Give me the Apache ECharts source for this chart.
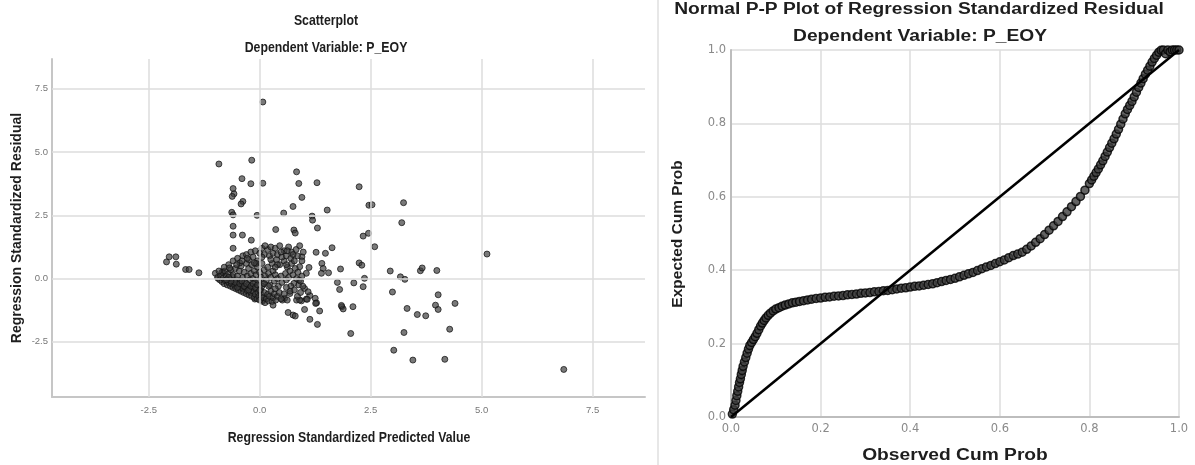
<!DOCTYPE html>
<html><head><meta charset="utf-8">
<script src="https://cdn.jsdelivr.net/npm/echarts@6/dist/echarts.min.js"></script>
<style>html,body{margin:0;padding:0;background:#fff}#c{width:1195px;height:465px}</style>
</head><body><div id="c"></div>
<script>
// ---------- data ----------
const scatterTicks = [-2.5, 0, 2.5, 5, 7.5];
const ppTicks = [0, 0.2, 0.4, 0.6, 0.8, 1.0];

// Regression Standardized Predicted Value (x) vs Regression Standardized Residual (y)
const scatterPoints = [
[0.07,6.98],[-0.92,4.53],[-0.18,4.68],[-0.4,3.95],[-0.2,3.75],[0.07,3.77],[-0.6,3.56],[-0.58,3.35],[-0.62,3.25],
[-0.38,3.05],[-0.42,2.95],[-0.63,2.62],[-0.6,2.52],[-0.06,2.5],[-0.6,2.07],[-0.6,1.72],[-0.39,1.72],[-0.19,1.52],
[-0.6,1.2],[0.83,4.22],[0.88,3.76],[1.29,3.79],[0.95,3.21],[0.75,2.85],[0.54,2.59],[1.52,2.71],[1.18,2.47],
[1.19,2.31],[1.3,2.0],[2.24,3.63],[2.46,2.9],[2.53,2.92],[0.36,1.94],[0.77,1.92],[0.8,1.8],[2.33,1.68],[2.45,1.79],
[2.59,1.26],[1.63,1.22],[1.27,1.04],[1.48,1.0],[2.24,0.62],[2.3,0.53],[1.82,0.38],[1.4,0.6],[1.43,0.4],[1.55,0.23],
[1.39,0.21],[1.11,0.44],[1.05,0.21],[2.94,0.3],[2.99,-0.53],[3.17,0.07],[3.27,-0.03],[2.12,-0.17],[2.36,0.01],
[2.33,-0.32],[1.75,-0.15],[1.8,-0.43],[1.85,-1.11],[1.88,-1.2],[2.1,-1.11],[2.05,-2.17],[1.13,-1.61],[1.3,-1.81],
[1.35,-1.28],[1.25,-0.78],[1.28,-0.96],[1.01,-1.22],[0.64,-1.34],[0.75,-1.44],[0.8,-1.48],[0.83,-0.85],[0.94,-0.88],
[1.05,-0.81],[1.13,-0.67],[0.68,-0.59],[0.77,-0.19],[0.89,-0.06],[0.56,-0.78],[0.51,-0.85],[0.3,-1.05],[0.07,-0.85],
[-0.11,-0.81],[-2.1,0.66],[-2.04,0.86],[-1.89,0.86],[-1.88,0.57],[-1.67,0.36],[-1.59,0.36],[-1.37,0.23],[-1.0,0.21],
[-0.94,0.01],[-0.83,0.27],[3.24,3.0],[3.2,2.21],[5.12,0.97],[0.95,0.86],[0.9,0.47],[3.62,0.31],[3.66,0.42],[3.99,0.32],
[4.02,-0.64],[3.32,-1.18],[3.55,-1.42],[3.74,-1.47],[3.96,-1.05],[4.02,-1.22],[4.4,-0.98],[4.28,-2.0],[3.25,-2.13],
[3.02,-2.83],[3.45,-3.22],[4.17,-3.19],[6.85,-3.59],[1.84,-1.06],[1.26,-0.98],[1.07,-0.82],[1.01,-0.39],[1.09,-0.52],
[0.9,-0.85],
[-0.95,0.05],[-0.9,-0.05],[-0.88,0.12],[-0.85,-0.12],[-0.82,0.02],[-0.8,-0.2],[-0.78,-0.08],[-0.75,0.1],[-0.73,-0.25],
[-0.7,-0.15],[-0.68,-0.02],[-0.66,-0.3],[-0.64,-0.2],[-0.62,0.08],[-0.6,-0.35],[-0.58,-0.12],[-0.56,-0.28],[-0.54,-0.4],
[-0.52,-0.05],[-0.5,-0.22],[-0.48,-0.45],[-0.46,-0.33],[-0.44,-0.1],[-0.42,-0.5],[-0.4,-0.27],[-0.38,-0.4],[-0.36,-0.55],
[-0.34,-0.15],[-0.32,-0.35],[-0.3,-0.6],[-0.28,-0.48],[-0.26,-0.25],[-0.24,-0.65],[-0.22,-0.4],[-0.2,-0.55],[-0.18,-0.7],
[-0.16,-0.3],[-0.14,-0.5],[-0.12,-0.75],[-0.1,-0.62],[-0.08,-0.4],[-0.06,-0.8],[-0.04,-0.55],[-0.02,-0.7],[0.0,-0.85],
[0.02,-0.45],[0.04,-0.65],[0.06,-0.9],[0.08,-0.75],[0.1,-0.55],[0.12,-0.95],[0.15,-0.8],[0.18,-0.62],[0.2,-0.88],
[0.22,-0.7],[0.25,-0.5],[0.28,-0.9],[0.3,-0.75],[0.33,-0.6],[0.36,-0.85],[0.4,-0.7],[0.44,-0.55],[0.48,-0.8],
[-0.85,0.25],[-0.78,0.3],[-0.7,0.2],[-0.65,0.35],[-0.6,0.15],[-0.55,0.4],[-0.5,0.1],[-0.46,0.3],[-0.42,0.5],
[-0.38,0.05],[-0.35,0.25],[-0.3,0.6],[-0.28,0.1],[-0.25,0.4],[-0.22,-0.05],[-0.2,0.2],[-0.18,0.55],[-0.15,0.0],
[-0.12,0.3],[-0.1,-0.15],[-0.08,0.15],[-0.05,0.45],[-0.02,-0.1],[0.0,0.25],[0.03,0.05],[0.05,0.6],[0.07,-0.2],
[0.1,0.35],[0.12,0.1],[0.15,-0.05],[0.18,0.45],[0.2,0.2],[0.23,-0.25],[0.25,0.05],[0.28,0.6],[0.3,0.3],[0.33,-0.1],
[0.35,0.15],[0.38,0.75],[0.4,0.0],[0.42,-0.3],[0.45,0.55],[0.48,0.1],[0.5,-0.15],[0.55,0.7],[0.58,0.2],[0.6,-0.05],
[0.62,0.45],[0.65,0.05],[0.68,0.3],[0.7,-0.3],[0.72,0.6],[0.75,0.15],[0.78,-0.45],[0.8,0.4],[0.83,0.0],[0.86,0.25],
[0.88,-0.25],
[-0.7,0.55],[-0.6,0.7],[-0.5,0.8],[-0.45,0.62],[-0.38,0.9],[-0.3,0.95],[-0.25,0.75],[-0.2,1.05],[-0.15,0.85],
[-0.1,1.1],[-0.05,0.7],[0.0,1.0],[0.05,1.2],[0.1,0.95],[0.18,1.15],[0.22,0.9],[0.25,1.25],[0.3,1.0],[0.35,1.2],
[0.4,0.95],[0.45,1.3],[0.5,0.85],[0.55,1.1],[0.6,0.9],[0.65,1.25],[0.7,0.8],[0.72,1.05],[0.78,0.7],[0.82,1.15],
[0.85,0.9],[0.9,1.3],[0.95,0.7],[0.4,0.55],[0.6,0.55],[0.35,0.45],[-0.08,0.6],[0.05,0.85],[0.25,0.75],
[-0.55,-0.15],[-0.5,-0.35],[-0.45,-0.2],[-0.4,-0.1],[-0.35,-0.3],[-0.3,-0.2],[-0.25,-0.45],[-0.2,-0.3],[-0.15,-0.2],
[-0.1,-0.35],[-0.05,-0.25],[0.0,-0.45],[0.05,-0.3],[0.1,-0.2],[-0.65,-0.1],[-0.7,0.05],[-0.75,-0.05],
[0.55,-0.6],[0.62,-0.85],[0.68,-0.5],[0.85,-0.7],[0.92,-0.55],[0.97,-0.3],
[-0.92,0.3],[-0.8,0.45],[-0.68,0.42],[-0.52,0.55],[-0.4,0.7],[-0.28,0.8],[-0.12,0.62],[0.12,1.3],[0.48,1.05],
[0.62,1.1],[0.75,0.95],[0.98,1.05],[0.95,0.1],[0.92,-0.1],[0.6,-0.35],[0.35,-0.4],[0.2,-0.3]
];

// Observed Cum Prob (x) vs Expected Cum Prob (y)
const ppPoints = [
[0.003,0.008],[0.006,0.02],[0.009,0.032],[0.011,0.045],[0.013,0.058],[0.015,0.07],[0.017,0.082],[0.019,0.094],
[0.021,0.104],[0.023,0.116],[0.025,0.127],[0.027,0.138],[0.03,0.15],[0.033,0.162],[0.036,0.174],[0.039,0.185],
[0.042,0.195],[0.046,0.203],[0.05,0.211],[0.054,0.219],[0.058,0.228],[0.062,0.238],[0.066,0.248],[0.07,0.256],
[0.074,0.263],[0.078,0.27],[0.083,0.277],[0.088,0.283],[0.094,0.289],[0.1,0.294],[0.107,0.298],[0.114,0.302],
[0.121,0.305],[0.129,0.308],[0.137,0.311],[0.145,0.313],[0.153,0.315],[0.162,0.317],[0.171,0.319],[0.18,0.321],
[0.19,0.323],[0.2,0.324],[0.21,0.326],[0.22,0.327],[0.23,0.329],[0.24,0.33],[0.25,0.331],[0.26,0.333],[0.27,0.334],
[0.28,0.335],[0.29,0.337],[0.3,0.338],[0.31,0.339],[0.32,0.341],[0.33,0.342],[0.34,0.344],[0.35,0.345],[0.36,0.347],
[0.37,0.349],[0.38,0.351],[0.39,0.352],[0.4,0.354],[0.41,0.356],[0.42,0.357],[0.43,0.359],[0.44,0.361],[0.45,0.363],
[0.46,0.366],[0.47,0.369],[0.48,0.372],[0.49,0.375],[0.5,0.378],[0.51,0.382],[0.52,0.386],[0.53,0.39],[0.54,0.394],
[0.55,0.399],[0.56,0.404],[0.57,0.409],[0.58,0.413],[0.59,0.418],[0.6,0.423],[0.61,0.428],[0.62,0.434],[0.63,0.44],
[0.64,0.444],[0.65,0.449],[0.66,0.457],[0.67,0.466],[0.68,0.476],[0.69,0.486],[0.7,0.497],[0.71,0.509],[0.72,0.521],
[0.73,0.533],[0.74,0.546],[0.75,0.559],[0.76,0.573],[0.77,0.587],[0.78,0.601],[0.79,0.618],[0.8,0.636],[0.805,0.646],
[0.81,0.656],[0.815,0.666],[0.82,0.676],[0.825,0.687],[0.83,0.698],[0.835,0.71],[0.84,0.722],[0.845,0.734],
[0.85,0.746],[0.855,0.758],[0.86,0.771],[0.865,0.784],[0.87,0.798],[0.875,0.812],[0.88,0.826],[0.885,0.838],
[0.89,0.849],[0.895,0.86],[0.9,0.872],[0.905,0.885],[0.91,0.898],[0.915,0.91],[0.92,0.922],[0.925,0.934],
[0.93,0.945],[0.935,0.956],[0.94,0.967],[0.945,0.977],[0.95,0.986],[0.955,0.994],[0.96,0.999],[0.965,1.0],
[0.97,0.99],[0.975,1.0],[0.98,0.995],[0.985,1.0],[0.99,1.0],[0.995,1.0],[1.0,1.0]
];
const diagonal = [[0, 0], [1, 1]];

// ---------- chart ----------
const ARIAL = '"Liberation Sans", Arial, sans-serif';
const DEJAVU = '"DejaVu Sans", sans-serif';

const chart = echarts.init(document.getElementById('c'), null, { renderer: 'canvas' });
const fmt1 = v => Number(v).toFixed(1);

function label(text, x, y, font, opts) {
  return Object.assign({
    type: 'text', x: x, y: y, silent: true,
    style: { text: text, font: font, fill: '#1e1e1e', align: 'center', verticalAlign: 'middle' }
  }, opts || {});
}

chart.setOption({
  animation: false,
  backgroundColor: '#fff',
  grid: [
    { left: 52, top: 59, width: 593, height: 338 },
    { left: 731, top: 50, width: 448, height: 367 }
  ],
  xAxis: [
    {
      gridIndex: 0, type: 'value', min: -4.68, max: 8.68,
      axisLine: { show: true, onZero: false, lineStyle: { color: '#c6c6c6', width: 2 } },
      axisTick: { show: false },
      splitLine: { show: false },
      axisLabel: { customValues: scatterTicks, formatter: fmt1, fontSize: 9.5, color: '#777', fontFamily: ARIAL, margin: 8 }
    },
    {
      gridIndex: 1, type: 'value', min: 0, max: 1, interval: 0.2,
      axisLine: { show: true, onZero: false, lineStyle: { color: '#bdbdbd', width: 2 } },
      axisTick: { show: false },
      splitLine: { show: true, lineStyle: { color: '#dcdcdc', width: 1.5 } },
      axisLabel: { formatter: fmt1, fontSize: 11.5, color: '#8a8a8a', fontFamily: DEJAVU, margin: 6 }
    }
  ],
  yAxis: [
    {
      gridIndex: 0, type: 'value', min: -4.68, max: 8.68,
      axisLine: { show: true, onZero: false, lineStyle: { color: '#c6c6c6', width: 2 } },
      axisTick: { show: false },
      splitLine: { show: false },
      axisLabel: { customValues: scatterTicks, formatter: fmt1, fontSize: 9.5, color: '#777', fontFamily: ARIAL, margin: 4 }
    },
    {
      gridIndex: 1, type: 'value', min: 0, max: 1, interval: 0.2,
      axisLine: { show: true, onZero: false, lineStyle: { color: '#bdbdbd', width: 2 } },
      axisTick: { show: false },
      splitLine: { show: true, lineStyle: { color: '#dcdcdc', width: 1.5 } },
      axisLabel: { formatter: fmt1, fontSize: 11.5, color: '#8a8a8a', fontFamily: DEJAVU, margin: 5 }
    }
  ],
  series: [
    {
      name: 'grid', type: 'scatter', xAxisIndex: 0, yAxisIndex: 0, data: [], z: 1, silent: true,
      markLine: {
        silent: true, symbol: ['none', 'none'], label: { show: false },
        lineStyle: { color: '#dcdcdc', width: 1.5, type: 'solid' },
        data: scatterTicks.map(v => ({ xAxis: v })).concat(scatterTicks.map(v => ({ yAxis: v })))
      }
    },
    {
      name: 'Residual', type: 'scatter', xAxisIndex: 0, yAxisIndex: 0, z: 3,
      data: scatterPoints, symbolSize: 6,
      itemStyle: { color: 'rgba(58,58,58,0.85)', borderColor: 'rgba(15,15,15,0.9)', borderWidth: 1 }
    },
    {
      name: 'PP', type: 'scatter', xAxisIndex: 1, yAxisIndex: 1, z: 3,
      data: ppPoints, symbolSize: 8,
      itemStyle: { color: '#3c3c3c', borderColor: '#000', borderWidth: 1.5 }
    },
    {
      name: 'Diagonal', type: 'line', xAxisIndex: 1, yAxisIndex: 1, z: 4,
      data: diagonal, symbol: 'none', lineStyle: { color: '#000', width: 2.6 }
    }
  ],
  graphic: [
    { type: 'line', shape: { x1: 658, y1: 0, x2: 658, y2: 465 }, style: { stroke: '#cfcfcf', lineWidth: 1 }, silent: true },
    label('Scatterplot', 326, 21, 'bold 15px ' + ARIAL, { scaleX: 0.82 }),
    label('Dependent Variable: P_EOY', 326, 48, 'bold 15px ' + ARIAL, { scaleX: 0.82 }),
    label('Regression Standardized Predicted Value', 349, 438, 'bold 15px ' + ARIAL, { scaleX: 0.82 }),
    label('Regression Standardized Residual', 17, 228, 'bold 14px ' + ARIAL, { rotation: Math.PI / 2 }),
    label('Normal P-P Plot of Regression Standardized Residual', 919, 10, 'bold 16px ' + ARIAL, { scaleX: 1.2 }),
    label('Dependent Variable: P_EOY', 920, 37, 'bold 16px ' + ARIAL, { scaleX: 1.2 }),
    label('Observed Cum Prob', 955, 456, 'bold 16px ' + ARIAL, { scaleX: 1.2 }),
    label('Expected Cum Prob', 678, 234, 'bold 15.5px ' + ARIAL, { rotation: Math.PI / 2 })
  ]
});
</script>
</body></html>
